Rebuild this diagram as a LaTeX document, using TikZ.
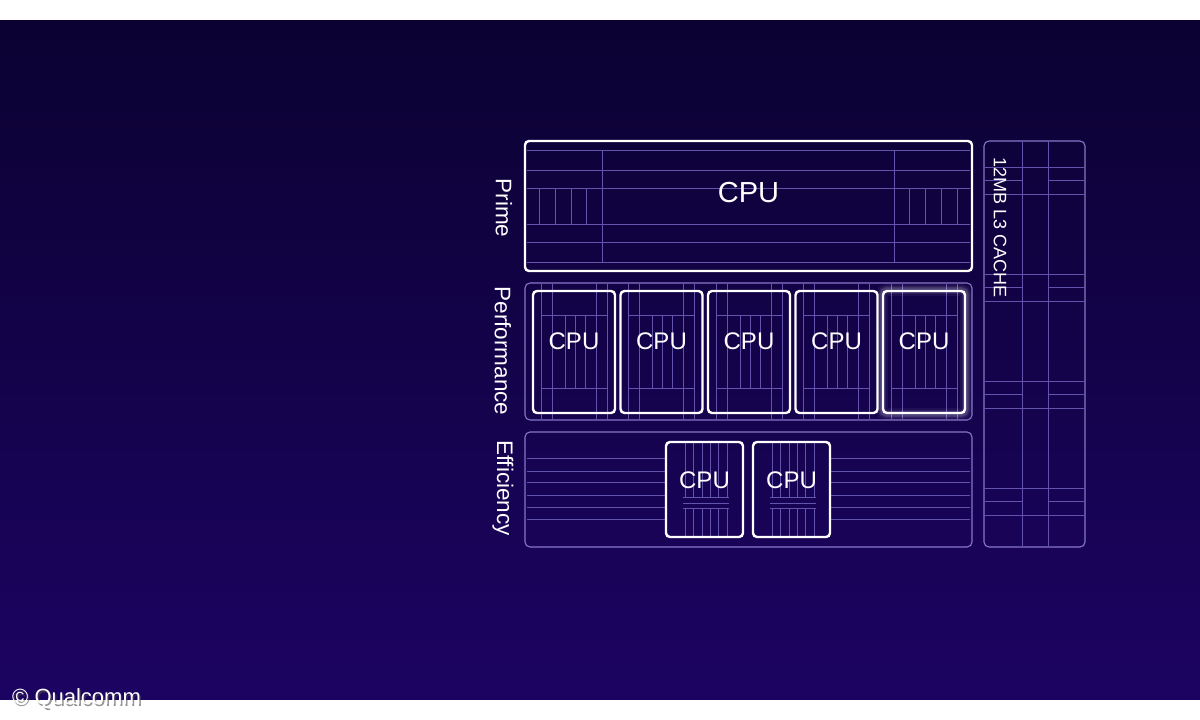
\documentclass[tikz,border=0pt]{standalone}
\usepackage{fontspec}
\setmainfont{Liberation Sans}
\definecolor{bgtop}{RGB}{11,2,50}
\definecolor{bgbottom}{RGB}{28,3,98}
\definecolor{gridline}{RGB}{98,84,172}
\definecolor{clusterline}{RGB}{132,120,200}

\begin{document}
\begin{tikzpicture}[x=1pt,y=-1pt,
    core/.style={draw=white,line width=2.4pt,rounded corners=4pt,inner sep=0pt},
    cluster/.style={draw=clusterline,line width=1.1pt,rounded corners=5pt,inner sep=0pt},
    fine/.style={draw=gridline,line width=0.8pt},
    side/.style={text=white,rotate=-90,inner sep=0pt,font=\fontsize{22.5}{22.5}\selectfont},
    cpu/.style={text=white,inner sep=0pt,font=\fontsize{24}{24}\selectfont}]
    % Background
    \fill[white] (0,0) rectangle (1200,720);
    \shade[top color=bgtop,bottom color=bgbottom] (0,20) rectangle (1200,699);
    \useasboundingbox (0,0) rectangle (1200,720);

    % Prime core
    \foreach \y in {150,170,188,224,242,262}
        \draw[fine] (527,\y) -- (970,\y);
    \draw[fine] (602,150) -- (602,262) (894,150) -- (894,262);
    \foreach \x in {539,555,571,586,909,925,941,957}
        \draw[fine] (\x,188) -- (\x,224);
    \node at (748.5,206) [core,minimum width=447,minimum height=130] (prime) {};
    \node[cpu,font=\fontsize{29}{29}\selectfont] at ([yshift=13pt]prime.center) (primecpu) {CPU};
    \node[side] at (504,208) (primelabel) {Prime};

    % Performance cores
    \node at (748.5,351.5) [cluster,minimum width=447,minimum height=137] (perf) {};
    \foreach \i [evaluate=\i as \xo using 533+87.5*(\i-1)] in {1,...,5} {
        \foreach \dx in {8,19,63,74}
            \draw[fine] (\xo+\dx,284) -- (\xo+\dx,419);
        \draw[fine] (\xo+8,315) -- (\xo+74,315) (\xo+8,388) -- (\xo+74,388);
        \foreach \dx in {32,42,52}
            \draw[fine] (\xo+\dx,315) -- (\xo+\dx,388);
        \node at (\xo+41,352) [core,minimum width=82,minimum height=122] (perf\i) {};
        \node[cpu] at ([yshift=11pt]perf\i.center) (perfcpu\i) {CPU};
    }
    % glow on the last one
    \foreach \w/\o in {12/0.05,8/0.08,5/0.14}
        \draw[white,opacity=\o,line width=\w pt,rounded corners=5pt]
            (perf5.south west) rectangle (perf5.north east);
    \node[side] at (503,351) (perflabel) {Performance};

    % Efficiency cores
    \node at (748.5,489.5) [cluster,minimum width=447,minimum height=115] (eff) {};
    \foreach \y in {458,471,482,495,507,519}
        \draw[fine] (527,\y) -- (666,\y) (830,\y) -- (970,\y);
    \foreach \i [evaluate=\i as \xo using 666+87*(\i-1)] in {1,2} {
        \foreach \dx in {19,27,36,44,52,61}
            \draw[fine] (\xo+\dx,443) -- (\xo+\dx,497) (\xo+\dx,508) -- (\xo+\dx,536);
        \foreach \y in {497,503,508}
            \draw[fine] (\xo+17,\y) -- (\xo+63,\y);
        \node at (\xo+38.5,489.5) [core,minimum width=77,minimum height=95] (eff\i) {};
        \node[cpu] at ([yshift=9.5pt]eff\i.center) (effcpu\i) {CPU};
    }
    \node[side] at (503,488) (efflabel) {Efficiency};

    % L3 cache
    \draw[fine] (1022,142) -- (1022,546) (1048,142) -- (1048,546);
    \foreach \y in {167,274,381,488} {
        \draw[fine] (985,\y) -- (1084,\y) (985,\y+27) -- (1084,\y+27);
        \draw[fine] (985,\y+13.5) -- (1022,\y+13.5) (1048,\y+13.5) -- (1084,\y+13.5);
    }
    \node at (1034.5,344) [cluster,minimum width=101,minimum height=406] (cache) {};
    \node[side,font=\fontsize{18}{18}\selectfont] at (1000,227.5) (cachelabel) {12MB L3 CACHE};

    % Copyright
    \node[anchor=west,inner sep=0pt,text=black!70,opacity=0.6,font=\fontsize{22}{22}\selectfont]
        at (13.5,700.5) (copyshadow) {© Qualcomm};
    \node[anchor=west,inner sep=0pt,text=white,font=\fontsize{22}{22}\selectfont]
        at (12,698.5) (copyright) {© Qualcomm};
\end{tikzpicture}
\end{document}
